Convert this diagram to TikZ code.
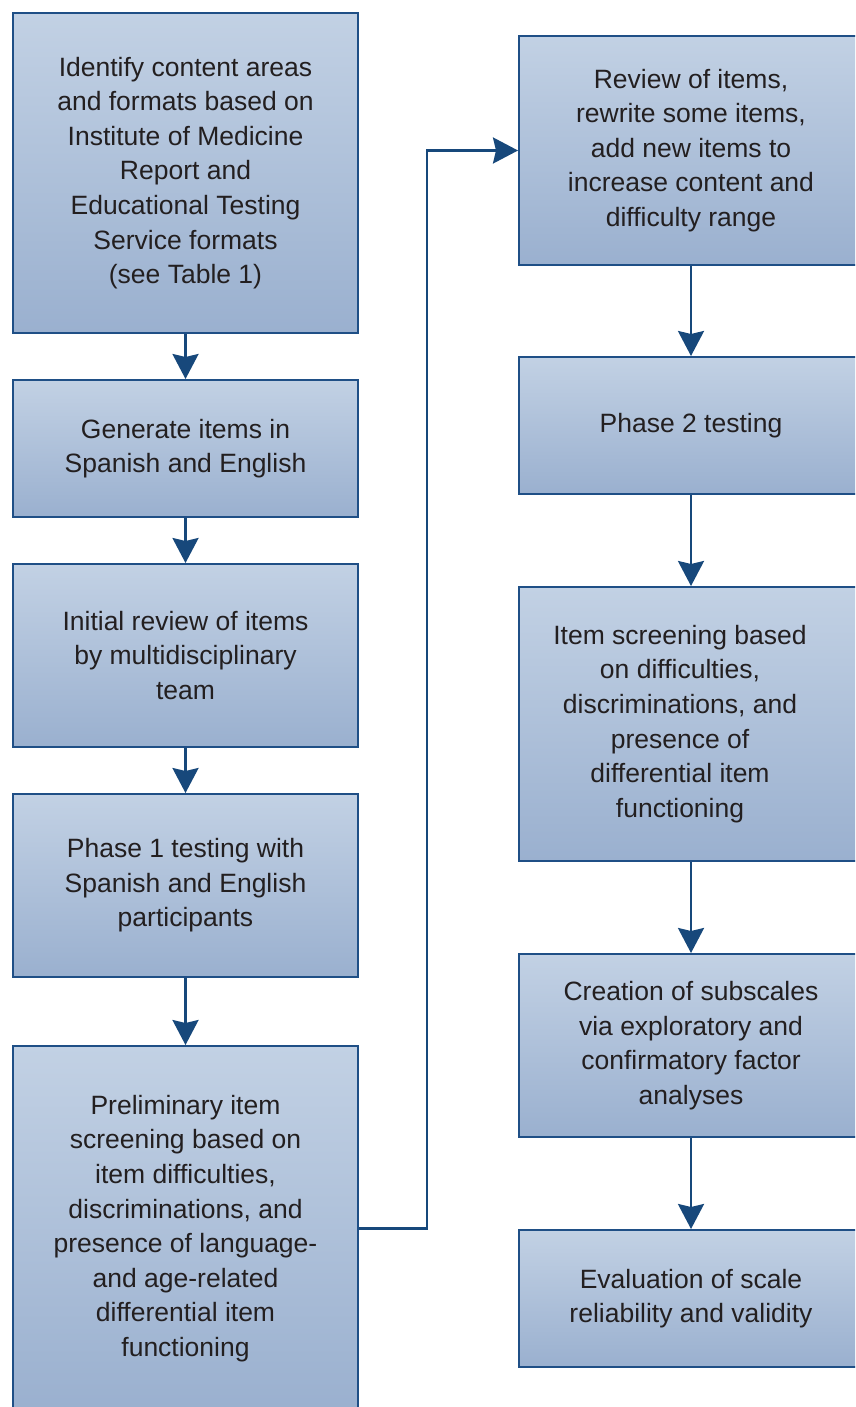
\documentclass[tikz,border=0pt]{standalone}
\usepackage{fontspec}
\setmainfont{Liberation Sans}
\usetikzlibrary{arrows.meta}
\definecolor{boxtop}{HTML}{C2D1E4}
\definecolor{boxbot}{HTML}{9AB0CF}
\definecolor{boxline}{HTML}{1F4F86}
\definecolor{arrowc}{HTML}{17487B}
\definecolor{txt}{HTML}{231F20}
\tikzset{
  flowtext/.style={align=center, text=txt, inner sep=0pt,
    font=\fontsize{26.5}{34.6}\selectfont},
  flowbox/.style={flowtext, draw=boxline, line width=2pt, top color=boxtop, bottom color=boxbot,
    rectangle},
  leftbox/.style={flowbox, minimum width=345pt},
  rightbox/.style={flowbox, minimum width=344pt},
  flow/.style={draw=arrowc, line width=2.5pt, -{Stealth[length=25pt,width=26pt,inset=3pt]}}
}
\begin{document}
\begin{tikzpicture}[x=1pt,y=-1pt]
\useasboundingbox (0,0) rectangle (855,1407);
\clip (0,0) rectangle (855,1407);
\fill[white] (0,0) rectangle (855,1407);
\node[leftbox, minimum height=320pt] (L1) at (185.5,173) {Identify content areas\\and formats based on\\Institute of Medicine\\Report and\\Educational Testing\\Service formats\\(see Table 1)};
\node[leftbox, minimum height=137pt] (L2) at (185.5,448.5) {Generate items in\\Spanish and English};
\node[leftbox, minimum height=183pt] (L3) at (185.5,655.5) {Initial review of items\\by multidisciplinary\\team};
\node[leftbox, minimum height=183pt] (L4) at (185.5,885.5) {Phase 1 testing with\\Spanish and English\\participants};
\node[leftbox, minimum height=365pt] (L5) at (185.5,1228.5) {Preliminary item\\screening based on\\item difficulties,\\discriminations, and\\presence of language-\\and age-related\\differential item\\functioning};
\node[rightbox, minimum height=229pt] (R1) at (691,150.5) {Review of items,\\rewrite some items,\\add new items to\\increase content and\\difficulty range};
\node[rightbox, minimum height=137pt] (R2) at (691,425.5) {Phase 2 testing};
\node[rightbox, minimum height=274pt] (R3) at (691,724) {};
\node[flowtext] (R3text) at ([xshift=-11pt]R3.center) {Item screening based\\on difficulties,\\discriminations, and\\presence of\\differential item\\functioning};
\node[rightbox, minimum height=183pt] (R4) at (691,1045.5) {Creation of subscales\\via exploratory and\\confirmatory factor\\analyses};
\node[rightbox, minimum height=137pt] (R5) at (691,1298.5) {Evaluation of scale\\reliability and validity};
\coordinate (turn) at (427,0);
\draw[flow] (L1) -- (L2);
\draw[flow] (L2) -- (L3);
\draw[flow] (L3) -- (L4);
\draw[flow] (L4) -- (L5);
\draw[flow] (L5.east) -- (L5.east -| turn) |- (R1.west);
\draw[flow] (R1) -- (R2);
\draw[flow] (R2) -- (R3);
\draw[flow] (R3) -- (R4);
\draw[flow] (R4) -- (R5);
\end{tikzpicture}
\end{document}
